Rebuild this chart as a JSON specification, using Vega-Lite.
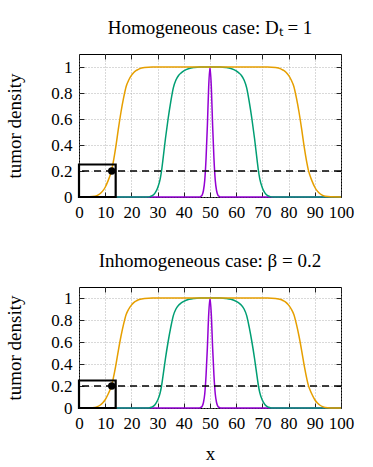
{
  "$schema": "https://vega.github.io/schema/vega-lite/v6.json",
  "padding": {"left": 5, "top": 18, "right": 5, "bottom": 5},
  "background": "white",
  "datasets": {
    "curves": [
      {"series": "purple", "x": 0, "y": 0}, {"series": "purple", "x": 46, "y": 0}, {"series": "purple", "x": 46.5, "y": 0.005}, {"series": "purple", "x": 47, "y": 0.015}, {"series": "purple", "x": 47.5, "y": 0.05}, {"series": "purple", "x": 48, "y": 0.13}, {"series": "purple", "x": 48.5, "y": 0.3}, {"series": "purple", "x": 49, "y": 0.55}, {"series": "purple", "x": 49.5, "y": 0.85}, {"series": "purple", "x": 50, "y": 1}, {"series": "purple", "x": 50.5, "y": 0.85}, {"series": "purple", "x": 51, "y": 0.55}, {"series": "purple", "x": 51.5, "y": 0.3}, {"series": "purple", "x": 52, "y": 0.13}, {"series": "purple", "x": 52.5, "y": 0.05}, {"series": "purple", "x": 53, "y": 0.015}, {"series": "purple", "x": 53.5, "y": 0.005}, {"series": "purple", "x": 54, "y": 0}, {"series": "purple", "x": 100, "y": 0},
      {"series": "green", "x": 0, "y": 0}, {"series": "green", "x": 26, "y": 0}, {"series": "green", "x": 27, "y": 0.003}, {"series": "green", "x": 28, "y": 0.01}, {"series": "green", "x": 29, "y": 0.03}, {"series": "green", "x": 30, "y": 0.07}, {"series": "green", "x": 31, "y": 0.14}, {"series": "green", "x": 31.5, "y": 0.2}, {"series": "green", "x": 32, "y": 0.28}, {"series": "green", "x": 33, "y": 0.45}, {"series": "green", "x": 34, "y": 0.6}, {"series": "green", "x": 35, "y": 0.73}, {"series": "green", "x": 36, "y": 0.84}, {"series": "green", "x": 37, "y": 0.9}, {"series": "green", "x": 38, "y": 0.935}, {"series": "green", "x": 39, "y": 0.955}, {"series": "green", "x": 40, "y": 0.97}, {"series": "green", "x": 42, "y": 0.988}, {"series": "green", "x": 44, "y": 0.996}, {"series": "green", "x": 46, "y": 1}, {"series": "green", "x": 54, "y": 1}, {"series": "green", "x": 56, "y": 0.996}, {"series": "green", "x": 58, "y": 0.988}, {"series": "green", "x": 60, "y": 0.97}, {"series": "green", "x": 61, "y": 0.955}, {"series": "green", "x": 62, "y": 0.935}, {"series": "green", "x": 63, "y": 0.9}, {"series": "green", "x": 64, "y": 0.84}, {"series": "green", "x": 65, "y": 0.73}, {"series": "green", "x": 66, "y": 0.6}, {"series": "green", "x": 67, "y": 0.45}, {"series": "green", "x": 68, "y": 0.28}, {"series": "green", "x": 68.5, "y": 0.2}, {"series": "green", "x": 69, "y": 0.14}, {"series": "green", "x": 70, "y": 0.07}, {"series": "green", "x": 71, "y": 0.03}, {"series": "green", "x": 72, "y": 0.01}, {"series": "green", "x": 73, "y": 0.003}, {"series": "green", "x": 74, "y": 0}, {"series": "green", "x": 100, "y": 0},
      {"series": "orange", "x": 0, "y": 0}, {"series": "orange", "x": 4, "y": 0.001}, {"series": "orange", "x": 6, "y": 0.005}, {"series": "orange", "x": 7, "y": 0.012}, {"series": "orange", "x": 8, "y": 0.025}, {"series": "orange", "x": 9, "y": 0.045}, {"series": "orange", "x": 10, "y": 0.075}, {"series": "orange", "x": 11, "y": 0.12}, {"series": "orange", "x": 12, "y": 0.175}, {"series": "orange", "x": 12.5, "y": 0.21}, {"series": "orange", "x": 13, "y": 0.26}, {"series": "orange", "x": 14, "y": 0.38}, {"series": "orange", "x": 15, "y": 0.52}, {"series": "orange", "x": 16, "y": 0.65}, {"series": "orange", "x": 17, "y": 0.76}, {"series": "orange", "x": 18, "y": 0.85}, {"series": "orange", "x": 19, "y": 0.9}, {"series": "orange", "x": 20, "y": 0.935}, {"series": "orange", "x": 21, "y": 0.96}, {"series": "orange", "x": 22, "y": 0.975}, {"series": "orange", "x": 23, "y": 0.986}, {"series": "orange", "x": 25, "y": 0.996}, {"series": "orange", "x": 28, "y": 1}, {"series": "orange", "x": 72, "y": 1}, {"series": "orange", "x": 75, "y": 0.996}, {"series": "orange", "x": 77, "y": 0.986}, {"series": "orange", "x": 78, "y": 0.975}, {"series": "orange", "x": 79, "y": 0.96}, {"series": "orange", "x": 80, "y": 0.935}, {"series": "orange", "x": 81, "y": 0.9}, {"series": "orange", "x": 82, "y": 0.85}, {"series": "orange", "x": 83, "y": 0.76}, {"series": "orange", "x": 84, "y": 0.65}, {"series": "orange", "x": 85, "y": 0.52}, {"series": "orange", "x": 86, "y": 0.38}, {"series": "orange", "x": 87, "y": 0.26}, {"series": "orange", "x": 87.5, "y": 0.21}, {"series": "orange", "x": 88, "y": 0.175}, {"series": "orange", "x": 89, "y": 0.12}, {"series": "orange", "x": 90, "y": 0.075}, {"series": "orange", "x": 91, "y": 0.045}, {"series": "orange", "x": 92, "y": 0.025}, {"series": "orange", "x": 93, "y": 0.012}, {"series": "orange", "x": 94, "y": 0.005}, {"series": "orange", "x": 96, "y": 0.001}, {"series": "orange", "x": 100, "y": 0}
    ],
    "threshold": [{"y": 0.2}],
    "box": [{"x": 0, "x2": 14, "y": 0, "y2": 0.25}],
    "marker": [{"x": 12.5, "y": 0.2}]
  },
  "vconcat": [
    {
      "width": 262,
      "height": 143,
      "title": {"text": "Homogeneous case: Dₜ = 1", "offset": 16},
      "resolve": {"axis": {"x": "independent", "y": "independent"}},
      "layer": [
        {
          "data": {"name": "curves"},
          "mark": {"type": "line", "strokeWidth": 1.5, "interpolate": "monotone"},
          "encoding": {
            "x": {"field": "x", "type": "quantitative", "scale": {"domain": [0, 100], "nice": false}, "axis": {"title": null, "values": [0, 10, 20, 30, 40, 50, 60, 70, 80, 90, 100], "tickCount": 30}},
            "y": {"field": "y", "type": "quantitative", "scale": {"domain": [0, 1.1], "nice": false, "zero": false}, "axis": {"title": "tumor density", "values": [0, 0.2, 0.4, 0.6, 0.8, 1], "format": "~g", "tickCount": 30}},
            "color": {"field": "series", "type": "nominal", "scale": {"domain": ["purple", "green", "orange"], "range": ["#9400d3", "#009e73", "#e69f00"]}, "legend": null}
          }
        },
        {
          "data": {"name": "threshold"},
          "mark": {"type": "rule", "color": "black", "strokeWidth": 1.3, "strokeDash": [7, 5]},
          "encoding": {"y": {"field": "y", "type": "quantitative", "axis": null}}
        },
        {
          "data": {"name": "box"},
          "mark": {"type": "rect", "fill": null, "fillOpacity": 0, "stroke": "black", "strokeWidth": 2.2},
          "encoding": {
            "x": {"field": "x", "type": "quantitative", "axis": {"orient": "top", "labels": false, "grid": false, "title": null, "values": [0, 10, 20, 30, 40, 50, 60, 70, 80, 90, 100], "tickCount": 30}},
            "x2": {"field": "x2"},
            "y": {"field": "y", "type": "quantitative", "axis": {"orient": "right", "labels": false, "grid": false, "title": null, "values": [0, 0.2, 0.4, 0.6, 0.8, 1], "tickCount": 30}},
            "y2": {"field": "y2"}
          }
        },
        {
          "data": {"name": "marker"},
          "mark": {"type": "point", "filled": true, "color": "black", "size": 55, "opacity": 1},
          "encoding": {"x": {"field": "x", "type": "quantitative", "axis": null}, "y": {"field": "y", "type": "quantitative", "axis": null}}
        }
      ]
    },
    {
      "width": 262,
      "height": 121,
      "title": {"text": "Inhomogeneous case: β = 0.2", "offset": 16},
      "resolve": {"axis": {"x": "independent", "y": "independent"}},
      "layer": [
        {
          "data": {"name": "curves"},
          "mark": {"type": "line", "strokeWidth": 1.5, "interpolate": "monotone"},
          "encoding": {
            "x": {"field": "x", "type": "quantitative", "scale": {"domain": [0, 100], "nice": false}, "axis": {"title": "x", "values": [0, 10, 20, 30, 40, 50, 60, 70, 80, 90, 100], "tickCount": 30}},
            "y": {"field": "y", "type": "quantitative", "scale": {"domain": [0, 1.1], "nice": false, "zero": false}, "axis": {"title": "tumor density", "values": [0, 0.2, 0.4, 0.6, 0.8, 1], "format": "~g", "tickCount": 30}},
            "color": {"field": "series", "type": "nominal", "scale": {"domain": ["purple", "green", "orange"], "range": ["#9400d3", "#009e73", "#e69f00"]}, "legend": null}
          }
        },
        {
          "data": {"name": "threshold"},
          "mark": {"type": "rule", "color": "black", "strokeWidth": 1.3, "strokeDash": [7, 5]},
          "encoding": {"y": {"field": "y", "type": "quantitative", "axis": null}}
        },
        {
          "data": {"name": "box"},
          "mark": {"type": "rect", "fill": null, "fillOpacity": 0, "stroke": "black", "strokeWidth": 2.2},
          "encoding": {
            "x": {"field": "x", "type": "quantitative", "axis": {"orient": "top", "labels": false, "grid": false, "title": null, "values": [0, 10, 20, 30, 40, 50, 60, 70, 80, 90, 100], "tickCount": 30}},
            "x2": {"field": "x2"},
            "y": {"field": "y", "type": "quantitative", "axis": {"orient": "right", "labels": false, "grid": false, "title": null, "values": [0, 0.2, 0.4, 0.6, 0.8, 1], "tickCount": 30}},
            "y2": {"field": "y2"}
          }
        },
        {
          "data": {"name": "marker"},
          "mark": {"type": "point", "filled": true, "color": "black", "size": 55, "opacity": 1},
          "encoding": {"x": {"field": "x", "type": "quantitative", "axis": null}, "y": {"field": "y", "type": "quantitative", "axis": null}}
        }
      ]
    }
  ],
  "spacing": 30,
  "config": {
    "font": "Liberation Serif",
    "view": {"stroke": "black", "strokeWidth": 1},
    "title": {"font": "Liberation Serif", "fontSize": 19, "fontWeight": "normal", "color": "black", "anchor": "middle"},
    "axis": {
      "domain": false,
      "grid": true,
      "gridColor": "#a0a0a0",
      "gridDash": [1, 2],
      "gridWidth": 0.8,
      "ticks": true,
      "tickSize": -5,
      "tickColor": "#222222",
      "labelFont": "Liberation Serif",
      "labelFontSize": 17,
      "labelColor": "black",
      "labelPadding": 12,
      "labelOverlap": false,
      "labelFlush": false,
      "titleFont": "Liberation Serif",
      "titleFontSize": 19,
      "titleFontWeight": "normal",
      "titleColor": "black"
    },
    "axisY": {"titlePadding": 26},
    "axisX": {"titlePadding": 13}
  }
}
